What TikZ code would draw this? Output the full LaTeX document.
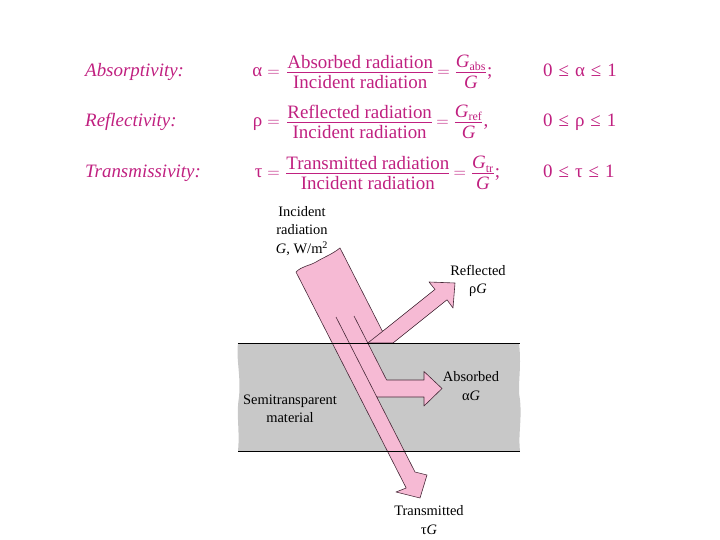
\documentclass[tikz,border=0pt]{standalone}
\usepackage{fontspec}
\setmainfont{Liberation Serif}
\usepackage{amsmath}
\usetikzlibrary{positioning}
\definecolor{eqmagenta}{RGB}{192,32,128}
\definecolor{beampink}{RGB}{246,186,212}
\definecolor{plategray}{RGB}{200,200,200}
\definecolor{beamedge}{RGB}{70,40,55}
\newcommand{\radfrac}[2]{$\genfrac{}{}{0.8pt}{1}{\mbox{#1\rule[-3pt]{0pt}{0pt}}}{\mbox{\rule{0pt}{15pt}#2}}$}
\newcommand{\gfrac}[1]{$\genfrac{}{}{0.8pt}{1}{\mbox{\itshape G\rule[-3pt]{0pt}{0pt}}_{\mbox{\fontsize{12}{12}\selectfont #1}}}{\mbox{\rule{0pt}{15pt}\itshape G}}$}
\newcommand{\rangesp}{\hspace{6bp}}

\begin{document}
\begin{tikzpicture}[x=1bp,y=-1bp,
  eqtext/.style={text=eqmagenta,font=\fontsize{19}{23}\selectfont,inner sep=0pt},
  lbl/.style={font=\fontsize{14.5}{18.5}\selectfont,align=center,inner sep=0pt}]
\useasboundingbox (0,0) rectangle (720,540);
% definitions: absorptivity, reflectivity, transmissivity
\node[eqtext,anchor=base west] (abslbl) at (85,76.5) {\itshape Absorptivity:};
\node[eqtext,anchor=base east] (abssym) at (280,76.5) {α\hspace{5bp}$=$};
\node[eqtext,anchor=base west] (absfrac) at (286,76.5) {\radfrac{Absorbed radiation}{Incident radiation}\,$=$\hspace{5bp}\gfrac{abs};};
\node[eqtext,anchor=base west] (absrange) at (543,76.5) {0\rangesp≤\rangesp α\rangesp≤\rangesp 1};
\node[eqtext,anchor=base west] (reflbl) at (85,126.5) {\itshape Reflectivity:};
\node[eqtext,anchor=base east] (refsym) at (280,126.5) {ρ\hspace{5bp}$=$};
\node[eqtext,anchor=base west] (reffrac) at (286,126.5) {\radfrac{Reflected radiation}{Incident radiation}\,$=$\hspace{5bp}\gfrac{ref},};
\node[eqtext,anchor=base west] (refrange) at (543,126.5) {0\rangesp≤\rangesp ρ\rangesp≤\rangesp 1};
\node[eqtext,anchor=base west] (trlbl) at (85,178) {\itshape Transmissivity:};
\node[eqtext,anchor=base east] (trsym) at (280,178) {τ\hspace{5bp}$=$};
\node[eqtext,anchor=base west] (trfrac) at (285,178) {\radfrac{Transmitted radiation}{Incident radiation}\,$=$\hspace{5bp}\gfrac{tr};};
\node[eqtext,anchor=base west] (trrange) at (543,178) {0\rangesp≤\rangesp τ\rangesp≤\rangesp 1};
% semitransparent slab with ragged side edges
\fill[plategray] (238,343) -- (519,343) .. controls (522,370) and (517,385) .. (520,400) .. controls (522,420) and (518,435) .. (520,451) -- (238,451) .. controls (240,430) and (236,415) .. (239,397) .. controls (241,375) and (236,360) .. cycle;
% incident beam split into reflected, absorbed and transmitted parts
\filldraw[fill=beampink,draw=beamedge,line width=0.6pt,line join=round] (296,272) .. controls (302,266) and (309,266) .. (316,262) .. controls (324,257) and (331,255) .. (340,248) -- (382.5,331.4) -- (435,289.4) -- (429,282) -- (455,283) -- (453,308) -- (447,299.8) -- (393,343) -- (367.8,343) -- (386.6,380) -- (424,380) -- (424,371.5) -- (442,388.5) -- (424,406) -- (424,397) -- (376.8,397) -- (415,472) -- (427,475) -- (420,498) -- (396,492) -- (406.2,488) -- cycle;
% dividing lines inside the beam
\draw[beamedge,line width=0.6pt] (336,317) -- (376.8,397);
\draw[beamedge,line width=0.6pt] (354,316) -- (367.8,343) -- (382.5,331.4);
% slab faces
\draw[line width=0.9pt] (238,343) -- (520,343);
\draw[line width=0.9pt] (238,451) -- (520,451);
% labels
\node[lbl] (inclbl) at (302,231) {Incident\\radiation\\\textit{G}, W/m\textsuperscript{2}};
\node[lbl] (reflabel) at (478,281) {Reflected\\ρ\textit{G}};
\node[lbl] (abslabel) at (471,386) {Absorbed\\α\textit{G}};
\node[lbl] (matlbl) at (290,409) {Semitransparent\\material};
\node[lbl] (trlabel) at (429,520) {Transmitted\\τ\textit{G}};
\end{tikzpicture}
\end{document}
